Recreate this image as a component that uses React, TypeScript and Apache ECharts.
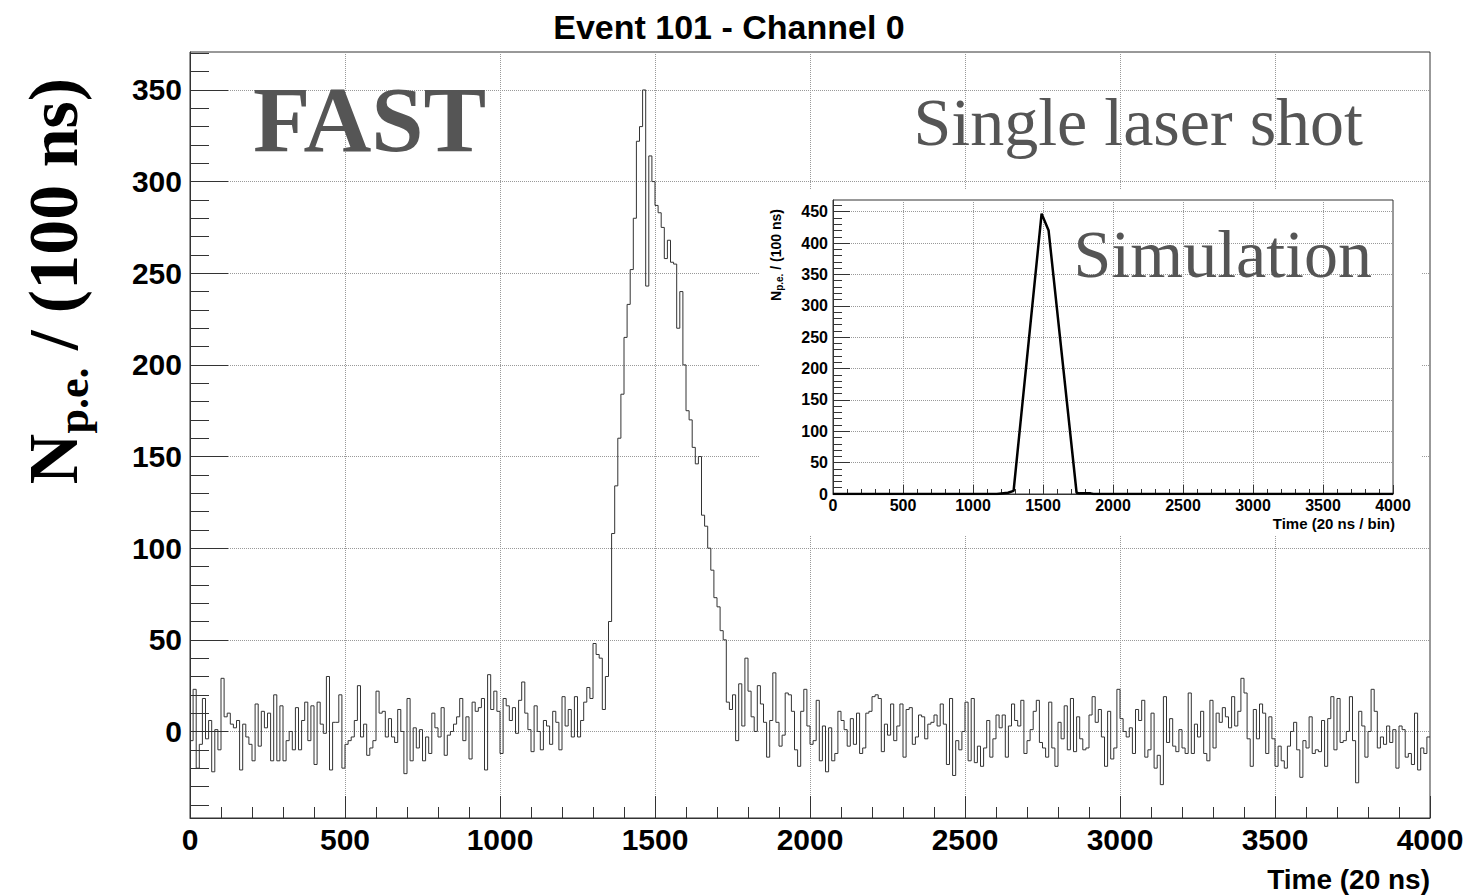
import React, { useEffect, useRef } from "react";
import * as echarts from "echarts";

// ---- Data ----
const BIN_WIDTH = 10; // time units per bin
const X_MAX = 4000;

// Histogram contents, bins 0..99 (time 0..1000)
const SEG_0_1000 = [
  -5, 23, -20, -7, 18, -4, 6, -22, 1, -10,
  29, 8, 10, 4, 2, 6, -21, 4, -3, -7,
  -16, 15, -8, 11, 2, 10, -16, 20, -16, 14,
  -16, -5, 0, -10, 13, -10, 6, 16, -5, 14,
  -18, 16, 4, -1, 30, -21, 5, 5, 20, -20,
  -7, -5, -3, 6, 25, -3, 4, -13, -9, -5,
  22, 10, 11, -3, 7, -3, -6, 12, 0, -23,
  18, -16, 2, -9, 1, -16, -3, -12, 10, 2,
  -3, 13, -13, -2, 0, 4, 8, 18, -5, 8,
  -15, 16, 11, 13, 18, -21, 31, 12, 22, 11,
];
// bins 100..199 (time 1000..2000) – contains the laser pulse
const SEG_1000_2000 = [
  -12, 18, 14, 6, 13, -1, 17, 27, 10, 1,
  -11, 14, 0, -10, 6, 3, -7, 11, 5, -10,
  19, 3, 12, -3, 19, -3, 6, 16, 24, 18,
  48, 42, 40, 12, 30, 60, 108, 134, 160, 184,
  215, 233, 252, 280, 322, 330, 350, 243, 314, 300,
  287, 283, 275, 258, 268, 256, 255, 220, 240, 200,
  175, 170, 155, 146, 150, 118, 112, 100, 88, 73,
  68, 55, 50, 16, 12, 20, -5, 26, 3, 40,
  22, 8, 0, 25, 15, 5, -14, 6, 32, 5,
  -8, -2, 21, 20, 11, -10, -19, 11, 23, 3,
];
// bins 200..299 (time 2000..3000)
const SEG_2000_3000 = [
  -7, -5, 17, -16, 3, -22, 2, -16, -12, 11,
  6, 1, -8, 7, -7, 10, -12, -9, 10, 11,
  19, 20, 18, -11, 4, -2, 15, -5, 3, 15,
  -14, 12, 13, -7, -3, 9, 8, -4, 4, 5,
  9, 3, 15, 4, -18, 18, -24, -5, -10, 0,
  16, -16, 18, -17, -8, -19, -9, 6, -14, -4,
  9, 2, 9, -14, 3, 15, 6, 3, 17, -12,
  -5, 1, 11, 17, -6, -9, -14, 16, -9, -19,
  5, -4, 14, -10, 18, -11, 8, -4, -10, -9,
  9, 19, 5, 12, -3, -19, 11, -15, -9, 23,
];
// bins 300..399 (time 3000..4000)
const SEG_3000_4000 = [
  7, 0, -3, 2, -12, 12, 6, 17, -14, -10,
  10, -20, -13, -29, 19, -6, 7, -8, -11, 1,
  -9, -12, 21, -12, 4, -3, 11, -12, -16, 17,
  -9, 10, 5, 13, 8, 2, 19, 3, 11, 29,
  21, -4, -19, 12, -4, 15, 10, -12, 8, -4,
  -19, -8, -16, -20, -8, 0, 5, -10, -25, -5,
  -9, 8, -12, -10, -11, 6, -19, 7, 19, -10,
  18, -6, -5, 0, 19, -5, -28, 11, 3, -14,
  0, 23, 11, -9, -3, -7, 3, -6, 1, -20,
  3, 1, -14, -12, -18, 10, -21, -9, -12, -3,
];

// Simulation (inset) curve
const SIM_X = [0, 1100, 1170, 1250, 1290, 1490, 1540, 1740, 1760, 1840, 1860, 4000];
const SIM_Y = [0, 0, 0, 2, 5, 447, 420, 2, 1, 1, 0, 0];

// Tick values
const Y_MAJOR = [0, 50, 100, 150, 200, 250, 300, 350];
const Y_MINOR = [-40, -30, -20, -10, 10, 20, 30, 40, 60, 70, 80, 90, 110, 120, 130, 140,
  160, 170, 180, 190, 210, 220, 230, 240, 260, 270, 280, 290, 310, 320, 330, 340, 360, 370];
const Y_INSET_MAJOR = [0, 50, 100, 150, 200, 250, 300, 350, 400, 450];
const Y_INSET_MINOR = [10, 20, 30, 40, 60, 70, 80, 90, 110, 120, 130, 140, 160, 170, 180, 190,
  210, 220, 230, 240, 260, 270, 280, 290, 310, 320, 330, 340, 360, 370, 380, 390,
  410, 420, 430, 440, 460];

const SANS = "Liberation Sans";
const SERIF = "Liberation Serif";
const AXIS_COLOR = "#333";

export default function App() {
  const ref = useRef<HTMLDivElement>(null);

  useEffect(() => {
    if (!ref.current) return;
    const chart = echarts.init(ref.current, undefined, { renderer: "svg" });

    const histValues = [...SEG_0_1000, ...SEG_1000_2000, ...SEG_2000_3000, ...SEG_3000_4000];
    const histData = histValues.map((v, i) => [i * BIN_WIDTH, v]);
    histData.push([X_MAX, histValues[histValues.length - 1]]);
    const simData = SIM_X.map((x, i) => [x, SIM_Y[i]]);

    const mainGrid = { left: 190, top: 52, width: 1240, height: 766 };
    const insetGrid = { left: 833, top: 200, width: 560, height: 294 };
    const lineStyle = { color: AXIS_COLOR, width: 1 };
    const gridLine = { show: true, lineStyle: { type: "dotted", color: "#999", width: 1 } };
    const plain = (v: number) => String(v);

    const option: any = {
      animation: false,
      backgroundColor: "#ffffff",
      grid: [
        { ...mainGrid, show: true, borderColor: AXIS_COLOR, borderWidth: 1, backgroundColor: "transparent", outerBoundsMode: "none", z: 0 },
        { ...mainGrid, show: false, outerBoundsMode: "none" },
        { ...insetGrid, show: true, borderColor: AXIS_COLOR, borderWidth: 1, backgroundColor: "transparent", outerBoundsMode: "none", z: 5 },
        { ...insetGrid, show: false, outerBoundsMode: "none", z: 5 },
      ],
      xAxis: [
        {
          type: "value", gridIndex: 0, min: 0, max: X_MAX, interval: 500, position: "bottom",
          axisLine: { show: true, onZero: false, lineStyle },
          axisTick: { show: true, inside: true, length: 22, lineStyle },
          minorTick: { show: true, splitNumber: 5, length: 11, lineStyle },
          axisLabel: { margin: 6, fontSize: 30, fontWeight: "bold", fontFamily: SANS, color: "#000", formatter: plain },
          splitLine: gridLine,
          z: 0,
        },
        { type: "value", gridIndex: 1, min: 0, max: X_MAX, show: false },
        {
          type: "value", gridIndex: 2, min: 0, max: X_MAX, interval: 500, position: "bottom",
          axisLine: { show: true, onZero: false, lineStyle },
          axisTick: { show: true, inside: true, length: 9, lineStyle },
          minorTick: { show: true, splitNumber: 5, length: 5, lineStyle },
          axisLabel: { margin: 3, fontSize: 16, fontWeight: "bold", fontFamily: SANS, color: "#000", formatter: plain },
          splitLine: gridLine,
          z: 5,
        },
        { type: "value", gridIndex: 3, min: 0, max: X_MAX, show: false, z: 5 },
      ],
      yAxis: [
        {
          type: "value", gridIndex: 0, min: -47.2, max: 370.7, position: "left",
          axisLine: { show: true, onZero: false, lineStyle },
          axisTick: { show: true, inside: true, length: 38, customValues: Y_MAJOR, lineStyle },
          axisLabel: { customValues: Y_MAJOR, margin: 8, fontSize: 30, fontWeight: "bold", fontFamily: SANS, color: "#000", formatter: plain },
          splitLine: gridLine,
          z: 0,
        },
        {
          type: "value", gridIndex: 1, min: -47.2, max: 370.7, position: "left",
          axisLine: { show: false },
          axisTick: { show: true, inside: true, length: 19, customValues: Y_MINOR, lineStyle },
          axisLabel: { show: false },
          splitLine: { show: false },
        },
        {
          type: "value", gridIndex: 2, min: 0, max: 468.7, position: "left",
          axisLine: { show: true, onZero: false, lineStyle },
          axisTick: { show: true, inside: true, length: 17, customValues: Y_INSET_MAJOR, lineStyle },
          axisLabel: { customValues: Y_INSET_MAJOR, margin: 5, fontSize: 16, fontWeight: "bold", fontFamily: SANS, color: "#000", formatter: plain },
          splitLine: gridLine,
          z: 5,
        },
        {
          type: "value", gridIndex: 3, min: 0, max: 468.7, position: "left",
          axisLine: { show: false },
          axisTick: { show: true, inside: true, length: 9, customValues: Y_INSET_MINOR, lineStyle },
          axisLabel: { show: false },
          splitLine: { show: false },
          z: 5,
        },
      ],
      series: [
        {
          type: "line", xAxisIndex: 0, yAxisIndex: 0, data: histData, step: "end",
          symbol: "none", showSymbol: false, lineStyle: { color: "#333", width: 1 }, z: 2,
        },
        {
          type: "line", xAxisIndex: 2, yAxisIndex: 2, data: simData,
          symbol: "none", showSymbol: false, lineStyle: { color: "#000", width: 2.5 }, z: 6,
        },
      ],
      graphic: [
        { type: "rect", z: 1, shape: { x: 760, y: 190, width: 662, height: 345 }, style: { fill: "#ffffff" } },
        {
          type: "text", z: 10, x: 729, y: 27,
          style: { text: "Event 101 - Channel 0", fontFamily: SANS, fontWeight: "bold", fontSize: 34, fill: "#000", align: "center", verticalAlign: "middle" },
        },
        {
          type: "text", z: 10, x: 1430, y: 879,
          style: { text: "Time (20 ns)", fontFamily: SANS, fontWeight: "bold", fontSize: 28, fill: "#000", align: "right", verticalAlign: "middle" },
        },
        {
          type: "text", z: 10, x: 53, y: 281, rotation: Math.PI / 2,
          style: {
            text: "{n|N}{s|p.e.}{n| / (100 ns)}",
            align: "center", verticalAlign: "middle", fill: "#000",
            rich: {
              n: { fontFamily: SERIF, fontWeight: "bold", fontSize: 70, lineHeight: 84, fill: "#000" },
              s: { fontFamily: SERIF, fontWeight: "bold", fontSize: 44, lineHeight: 44, verticalAlign: "bottom", fill: "#000" },
            },
          },
        },
        {
          type: "text", z: 10, x: 253, y: 119,
          style: { text: "FAST", fontFamily: SERIF, fontWeight: "bold", fontSize: 94, fill: "#555", align: "left", verticalAlign: "middle" },
        },
        {
          type: "text", z: 10, x: 1363, y: 122,
          style: { text: "Single laser shot", fontFamily: SERIF, fontSize: 68, fill: "#555", align: "right", verticalAlign: "middle" },
        },
        {
          type: "text", z: 10, x: 1372, y: 254,
          style: { text: "Simulation", fontFamily: SERIF, fontSize: 68, fill: "#555", align: "right", verticalAlign: "middle" },
        },
        {
          type: "text", z: 10, x: 1395, y: 523,
          style: { text: "Time (20 ns / bin)", fontFamily: SANS, fontWeight: "bold", fontSize: 15, fill: "#000", align: "right", verticalAlign: "middle" },
        },
        {
          type: "text", z: 10, x: 776, y: 255, rotation: Math.PI / 2,
          style: {
            text: "{n|N}{s|p.e.}{n| / (100 ns)}",
            align: "center", verticalAlign: "middle", fill: "#000",
            rich: {
              n: { fontFamily: SANS, fontWeight: "bold", fontSize: 14, lineHeight: 17, fill: "#000" },
              s: { fontFamily: SANS, fontWeight: "bold", fontSize: 10, lineHeight: 10, verticalAlign: "bottom", fill: "#000" },
            },
          },
        },
      ],
    };

    chart.setOption(option);
    return () => chart.dispose();
  }, []);

  return (
    <div
      ref={ref}
      style={{ position: "absolute", left: 0, top: 0, width: 1470, height: 896, background: "#fff" }}
    />
  );
}
